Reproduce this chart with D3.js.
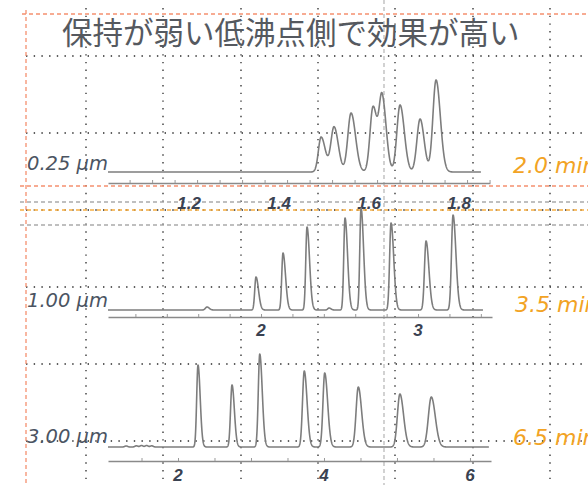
<!DOCTYPE html>
<html>
<head>
<meta charset="utf-8">
<script src="https://cdn.jsdelivr.net/npm/d3@7"></script>
<style>
html,body{margin:0;padding:0;background:#fff;}
svg{display:block;}
</style>
</head>
<body>
<svg id="c" width="588" height="485"></svg>
<script>
// ---------- data ----------
const title = "保持が弱い低沸点側で効果が高い";
const filmLabels = ["0.25 µm", "1.00 µm", "3.00 µm"];
const timeLabels = ["2.0 min", "3.5 min", "6.5 min"];

// panel 1 (0.25 µm): peak retention times (min), heights, front/tail widths (min)
const p1Times   = [1.4756, 1.5044, 1.5422, 1.5911, 1.6111, 1.6511, 1.6956, 1.7311];
const p1Heights = [35, 45, 59, 65, 75, 67, 53, 92];
const p1Front   = [0.0060, 0.0070, 0.0072, 0.0068, 0.0066, 0.0070, 0.0070, 0.0070];
const p1Tail    = [0.0095, 0.0095, 0.0100, 0.0085, 0.0090, 0.0095, 0.0090, 0.0095];
const p1Ticks   = [1.2, 1.4, 1.6, 1.8];
const p1Domain  = [1.002, 1.851];
const p1Trace   = [1.002, 1.831];

// panel 2 (1.00 µm)
const p2Times   = [1.656, 1.968, 2.140, 2.293, 2.433, 2.535, 2.637, 2.828, 3.051, 3.223];
const p2Heights = [3, 33, 57, 83, 2, 92, 102, 87, 69, 95];
const p2Front   = [0.010, 0.008, 0.008, 0.008, 0.008, 0.008, 0.008, 0.009, 0.010, 0.010];
const p2Tail    = [0.014, 0.016, 0.016, 0.016, 0.012, 0.016, 0.016, 0.017, 0.018, 0.018];
const p2Ticks   = [2, 3];
const p2Domain  = [1.0255, 3.471];
const p2Trace   = [1.0255, 3.414];

// panel 3 (3.00 µm)
const p3Times   = [1.290, 1.430, 1.500, 1.570, 1.640, 2.274, 2.740, 3.120, 3.730, 4.010, 4.470, 5.040, 5.470];
const p3Heights = [1, 1.2, 1.5, 1.5, 1.2, 82, 62, 93, 76, 74, 60, 53, 50];
const p3Front   = [0.02, 0.02, 0.02, 0.02, 0.02, 0.018, 0.020, 0.020, 0.024, 0.024, 0.030, 0.034, 0.040];
const p3Tail    = [0.02, 0.02, 0.02, 0.02, 0.02, 0.030, 0.032, 0.034, 0.038, 0.040, 0.045, 0.050, 0.055];
const p3Ticks   = [2, 4, 6];
const p3Domain  = [1.041, 6.288];
const p3Trace   = [1.041, 6.26];

// ---------- drawing ----------
const svg = d3.select("#c");
const W = 588, H = 485;

// dotted grid
const gridX = [86, 163, 241, 318, 395, 473, 550];
const gridY = [56, 133, 210, 287, 364, 441];
const grid = svg.append("g");
grid.selectAll("line.v").data(gridX).join("line")
  .attr("x1", d => d).attr("x2", d => d).attr("y1", 8).attr("y2", H)
  .attr("stroke", "#2a2a2a").attr("stroke-width", 1.3).attr("stroke-dasharray", "1.4,6.3");
grid.selectAll("line.h").data(gridY).join("line")
  .attr("x1", 26).attr("x2", W).attr("y1", d => d).attr("y2", d => d)
  .attr("stroke", "#2a2a2a").attr("stroke-width", 1.3).attr("stroke-dasharray", "1.4,6.3");

// guide lines
const guides = svg.append("g");
function hGuide(y, color, x1) {
  guides.append("line").attr("x1", x1).attr("x2", W).attr("y1", y).attr("y2", y)
    .attr("stroke", color).attr("stroke-width", 1.3).attr("stroke-dasharray", "4,3");
}
hGuide(14, "#f5906f", 22);
hGuide(186, "#f5906f", 20);
hGuide(202, "#aaaaaa", 20);
hGuide(225, "#aaaaaa", 20);
hGuide(210, "#f6ad40", 20);
guides.append("line").attr("x1", 26).attr("x2", 26).attr("y1", 10).attr("y2", H)
  .attr("stroke", "#f5906f").attr("stroke-width", 1.3).attr("stroke-dasharray", "4,3");
guides.append("line").attr("x1", 384).attr("x2", 384).attr("y1", 0).attr("y2", H)
  .attr("stroke", "#b4b4b4").attr("stroke-width", 1.2).attr("stroke-dasharray", "4,3");

// title
svg.append("text").attr("x", 62).attr("y", 44)
  .attr("font-family", "'Noto Sans CJK JP'").attr("font-size", 30.5)
  .attr("fill", "#55595f").text(title);

function buildTrace(times, heights, front, tail, range, step) {
  const pts = [];
  for (let t = range[0]; t <= range[1] + 1e-9; t += step) {
    let v = 0;
    for (let i = 0; i < times.length; i++) {
      const s = t < times[i] ? front[i] : tail[i];
      const z = (t - times[i]) / s;
      v += heights[i] * Math.exp(-0.5 * z * z);
    }
    pts.push([t, v]);
  }
  return pts;
}

const panels = [
  {times: p1Times, heights: p1Heights, front: p1Front, tail: p1Tail, ticks: p1Ticks, domain: p1Domain, trace: p1Trace,
   x0: 108, x1: 490, base: 172, axisY: 183, labelY: 209, labelDx: -8, labelSize: 17, minor: 0.05, step: 0.0004,
   film: filmLabels[0], filmY: 170, time: timeLabels[0], timeX: 513, timeY: 173, fmt: d3.format(".1f")},
  {times: p2Times, heights: p2Heights, front: p2Front, tail: p2Tail, ticks: p2Ticks, domain: p2Domain, trace: p2Trace,
   x0: 108, x1: 492, base: 310, axisY: 317, labelY: 336, labelDx: 0, labelSize: 17, minor: 0.2, step: 0.001,
   film: filmLabels[1], filmY: 307, time: timeLabels[1], timeX: 515, timeY: 312, fmt: d3.format("d")},
  {times: p3Times, heights: p3Heights, front: p3Front, tail: p3Tail, ticks: p3Ticks, domain: p3Domain, trace: p3Trace,
   x0: 108, x1: 491, base: 447, axisY: 461, labelY: 480.5, labelDx: 0, labelSize: 17, minor: 0.5, step: 0.002,
   film: filmLabels[2], filmY: 443, time: timeLabels[2], timeX: 513, timeY: 445, fmt: d3.format("d")}
];

panels.forEach(p => {
  const g = svg.append("g");
  const x = d3.scaleLinear().domain(p.domain).range([p.x0, p.x1]);
  const y = d3.scaleLinear().domain([0, 100]).range([p.base, p.base - 100]);

  // axis line with small upward minor ticks
  const minorTicks = d3.range(Math.ceil(p.domain[0] / p.minor) * p.minor, p.domain[1], p.minor);
  const axis = d3.axisTop(x).tickValues(minorTicks).tickSize(3).tickSizeOuter(0).tickFormat("");
  const ag = g.append("g").attr("transform", `translate(0,${p.axisY})`).call(axis);
  ag.select(".domain").attr("stroke", "#8a8a8a").attr("stroke-width", 1.6);
  ag.selectAll(".tick line").attr("stroke", "#9a9a9a").attr("stroke-width", 1);

  // tick labels
  g.selectAll("text.tl").data(p.ticks).join("text")
    .attr("x", d => x(d) + p.labelDx).attr("y", p.labelY)
    .attr("text-anchor", "middle")
    .attr("font-family", "'Liberation Sans', Arial, sans-serif")
    .attr("font-weight", "bold").attr("font-style", "italic")
    .attr("font-size", p.labelSize).attr("fill", "#3a4251")
    .text(d => p.fmt(d));

  // chromatogram
  const pts = buildTrace(p.times, p.heights, p.front, p.tail, p.trace, p.step);
  const line = d3.line().x(d => x(d[0])).y(d => y(d[1]));
  g.append("path").attr("d", line(pts)).attr("fill", "none")
    .attr("stroke", "#7d7d7d").attr("stroke-width", 1.6).attr("stroke-linejoin", "round");

  // film label
  g.append("text").attr("x", 27).attr("y", p.filmY)
    .attr("font-family", "'DejaVu Sans', sans-serif").attr("font-style", "italic")
    .attr("font-size", 19.5).attr("fill", "#4b5462").text(p.film);

  // time label (cut off at the right edge, as in the reference)
  g.append("text").attr("x", p.timeX).attr("y", p.timeY)
    .attr("font-family", "'DejaVu Sans', sans-serif").attr("font-style", "italic")
    .attr("font-size", 22).attr("fill", "#f2a324").text(p.time);
});
</script>
</body>
</html>
